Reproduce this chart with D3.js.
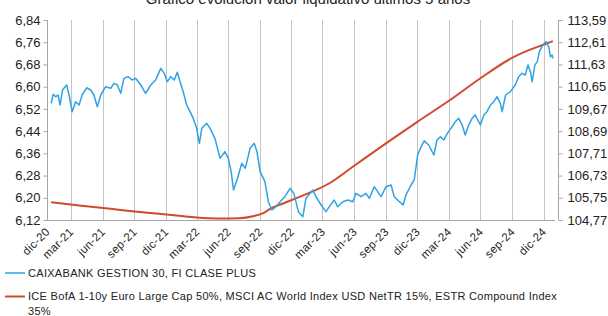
<!DOCTYPE html>
<html>
<head>
<meta charset="utf-8">
<script src="https://cdn.jsdelivr.net/npm/d3@7"></script>
<style>
  body { margin: 0; background: #fff; }
  svg { font-family: "Liberation Sans", Arial, sans-serif; }
</style>
</head>
<body>
<script>
// fund NAV (left axis)
var fundDates = ["2021-01-03","2021-01-09","2021-01-16","2021-01-23","2021-01-29","2021-02-05","2021-02-17","2021-02-24",
  "2021-03-05","2021-03-15","2021-03-25","2021-04-03","2021-04-16","2021-04-28","2021-05-07","2021-05-17","2021-05-27",
  "2021-06-10","2021-06-25","2021-07-04","2021-07-14","2021-07-24","2021-08-02","2021-08-14","2021-08-26","2021-09-05",
  "2021-09-20","2021-10-04","2021-10-19","2021-11-02","2021-11-17","2021-11-27","2021-12-06","2021-12-16","2021-12-26",
  "2022-01-04","2022-01-12","2022-01-21","2022-01-31","2022-02-10","2022-02-19","2022-03-01","2022-03-09","2022-03-16",
  "2022-03-30","2022-04-09","2022-04-23","2022-05-08","2022-05-22","2022-06-01","2022-06-09","2022-06-16","2022-06-26",
  "2022-07-10","2022-07-20","2022-08-03","2022-08-15","2022-08-23","2022-09-01","2022-09-15","2022-09-25","2022-10-05",
  "2022-10-17","2022-10-29","2022-11-12","2022-11-27","2022-12-08","2022-12-21","2023-01-03","2023-01-12","2023-02-01",
  "2023-02-10","2023-02-25","2023-03-11","2023-03-21","2023-04-04","2023-04-14","2023-04-29","2023-05-13","2023-05-28",
  "2023-06-06","2023-06-21","2023-07-05","2023-07-15","2023-07-29","2023-08-08","2023-08-18","2023-09-01","2023-09-16",
  "2023-09-25","2023-10-10","2023-10-21","2023-10-29","2023-11-13","2023-11-22","2023-12-02","2023-12-12","2023-12-21",
  "2024-01-03","2024-01-18","2024-01-27","2024-02-06","2024-02-16","2024-02-26","2024-03-11","2024-03-20","2024-03-30",
  "2024-04-09","2024-04-18","2024-04-28","2024-05-08","2024-05-17","2024-06-01","2024-06-11","2024-06-20","2024-06-30",
  "2024-07-10","2024-07-19","2024-07-29","2024-08-03","2024-08-13","2024-08-27","2024-09-10","2024-09-20","2024-09-30",
  "2024-10-09","2024-10-17","2024-10-24","2024-10-29","2024-11-06","2024-11-13","2024-11-19","2024-11-29","2024-12-08",
  "2024-12-16","2024-12-21","2024-12-26","2024-12-28"];
var fundNav = [6.540,6.573,6.564,6.570,6.534,6.588,6.606,6.570,
  6.510,6.546,6.534,6.570,6.596,6.588,6.570,6.528,6.570,
  6.600,6.594,6.612,6.606,6.576,6.630,6.636,6.624,6.630,
  6.606,6.576,6.606,6.624,6.666,6.648,6.618,6.636,6.624,
  6.652,6.618,6.582,6.534,6.510,6.486,6.450,6.396,6.450,
  6.468,6.450,6.414,6.342,6.366,6.342,6.294,6.228,6.264,
  6.324,6.306,6.378,6.396,6.366,6.294,6.258,6.186,6.156,
  6.168,6.186,6.204,6.234,6.216,6.150,6.132,6.198,6.228,
  6.204,6.174,6.150,6.168,6.192,6.168,6.186,6.192,6.186,
  6.216,6.204,6.216,6.198,6.240,6.222,6.204,6.240,6.246,
  6.204,6.186,6.174,6.210,6.246,6.264,6.354,6.384,6.405,
  6.390,6.354,6.408,6.420,6.408,6.432,6.456,6.474,6.486,
  6.462,6.426,6.462,6.486,6.498,6.462,6.498,6.510,6.534,
  6.546,6.564,6.540,6.510,6.570,6.582,6.606,6.636,6.648,
  6.642,6.678,6.654,6.618,6.678,6.690,6.726,6.750,6.762,
  6.744,6.708,6.714,6.702];

// benchmark index (right axis)
var benchDates = ["2021-01-03","2021-04-01","2021-07-01","2021-10-01","2022-01-01","2022-03-01","2022-05-01","2022-07-01",
  "2022-08-15","2022-09-10","2022-09-30","2022-11-08","2022-12-26","2023-03-21","2023-05-28","2023-09-01","2023-12-01",
  "2024-03-05","2024-06-01","2024-09-02","2024-10-21","2024-11-29","2024-12-28"];
var benchIdx = [105.55,105.40,105.25,105.10,104.97,104.88,104.84,104.85,
  104.95,105.07,105.26,105.51,105.80,106.39,107.12,108.15,109.10,
  110.06,111.02,111.93,112.27,112.49,112.66];

var leftTicks = [6.12,6.20,6.28,6.36,6.44,6.52,6.60,6.68,6.76,6.84];
var rightTicks = [104.77,105.75,106.73,107.71,108.69,109.67,110.65,111.63,112.61,113.59];
var xTickDates = ["2020-12-22","2021-03-01","2021-06-01","2021-09-01","2021-12-01","2022-03-01","2022-06-01",
  "2022-09-01","2022-12-01","2023-03-01","2023-06-01","2023-09-01","2023-12-01","2024-03-01","2024-06-01",
  "2024-09-01","2024-12-01"];
var monthNames = ["ene","feb","mar","abr","may","jun","jul","ago","sep","oct","nov","dic"];

var fundName = "CAIXABANK GESTION 30, FI CLASE PLUS";
var benchName1 = "ICE BofA 1-10y Euro Large Cap 50%, MSCI AC World Index USD NetTR 15%, ESTR Compound Index";
var benchName2 = "35%";

var W = 608, H = 316;
var plotL = 47, plotR = 558, plotT = 20, plotB = 220;

var parse = d3.timeParse("%Y-%m-%d");

var svg = d3.select("body").append("svg")
    .attr("width", W)
    .attr("height", H);

var x = d3.scaleTime()
    .domain([parse("2020-12-22"), parse("2025-01-12")])
    .range([plotL, plotR]);
var yL = d3.scaleLinear().domain([6.12, 6.84]).range([plotB, plotT]);
var yR = d3.scaleLinear().domain([104.77, 113.59]).range([plotB, plotT]);

// title (cut off at top in the original)
svg.append("text")
    .attr("x", 308).attr("y", 4)
    .attr("text-anchor", "middle")
    .style("font-size", "15px")
    .style("fill", "#222")
    .text("Gráfico evolución valor liquidativo últimos 5 años");

// vertical gridlines
var gridDates = xTickDates.slice(1).map(parse);
svg.append("g").selectAll("line")
    .data(gridDates)
    .enter().append("line")
    .attr("x1", function(d){ return Math.round(x(d)) + 0.5; })
    .attr("x2", function(d){ return Math.round(x(d)) + 0.5; })
    .attr("y1", plotT).attr("y2", plotB)
    .attr("stroke", "#c4c4c4")
    .attr("stroke-width", 1);

var fmt = function(v) { return d3.format(".2f")(v).replace(".", ","); };

// left axis
var axL = svg.append("g")
    .attr("transform", "translate(" + (plotL + 0.5) + ",0)")
    .call(d3.axisLeft(yL).tickValues(leftTicks).tickFormat(fmt).tickSize(4).tickPadding(3));

// right axis
var axR = svg.append("g")
    .attr("transform", "translate(" + (plotR + 0.5) + ",0)")
    .call(d3.axisRight(yR).tickValues(rightTicks).tickFormat(fmt).tickSize(4).tickPadding(5));

// bottom axis
var axB = svg.append("g")
    .attr("transform", "translate(0," + (plotB + 0.5) + ")")
    .call(d3.axisBottom(x).tickValues(xTickDates.map(parse))
        .tickFormat(function(d){ return monthNames[d.getMonth()] + "-" + String(d.getFullYear()).slice(2); })
        .tickSize(0).tickPadding(0));
axB.select(".domain").attr("d", "M" + plotL + ",0H" + (plotR - 3));
axB.selectAll(".tick text")
    .attr("text-anchor", "end")
    .attr("dy", "0")
    .attr("transform", "translate(3,12) rotate(-45)");

[axL, axR, axB].forEach(function(a) {
    a.select(".domain").attr("stroke", "#a6a6a6");
    a.selectAll(".tick line").attr("stroke", "#a6a6a6");
    a.selectAll(".tick text")
        .style("font-family", "'Liberation Sans', Arial, sans-serif")
        .style("font-size", "13px")
        .style("fill", "#222");
});
axL.select(".domain").attr("d", "M0," + plotT + "V" + plotB);
axR.select(".domain").attr("d", "M0," + plotT + "V" + plotB);
axB.selectAll(".tick text").style("font-size", "11.5px").style("letter-spacing", "0.3px");

// lines
var benchLine = d3.line()
    .x(function(d, i){ return x(parse(benchDates[i])); })
    .y(function(d){ return yR(d); })
    .curve(d3.curveMonotoneX);
svg.append("path")
    .datum(benchIdx)
    .attr("d", benchLine)
    .attr("fill", "none")
    .attr("stroke", "#d24a2c")
    .attr("stroke-width", 2);

var fundLine = d3.line()
    .x(function(d, i){ return x(parse(fundDates[i])); })
    .y(function(d){ return yL(d); });
svg.append("path")
    .datum(fundNav)
    .attr("d", fundLine)
    .attr("fill", "none")
    .attr("stroke", "#2ea2e4")
    .attr("stroke-width", 1.5)
    .attr("stroke-linejoin", "round");

// legend
var legend = svg.append("g").style("font-size", "11px").style("fill", "#222").style("letter-spacing", "0.3px");
legend.append("line")
    .attr("x1", 5).attr("x2", 25).attr("y1", 273).attr("y2", 273)
    .attr("stroke", "#2ea2e4").attr("stroke-width", 1.5);
legend.append("text").attr("x", 28).attr("y", 277).text(fundName);
legend.append("line")
    .attr("x1", 5).attr("x2", 25).attr("y1", 296.5).attr("y2", 296.5)
    .attr("stroke", "#d24a2c").attr("stroke-width", 2);
legend.append("text").attr("x", 28).attr("y", 300).text(benchName1);
legend.append("text").attr("x", 28).attr("y", 315).text(benchName2);
</script>
</body>
</html>
